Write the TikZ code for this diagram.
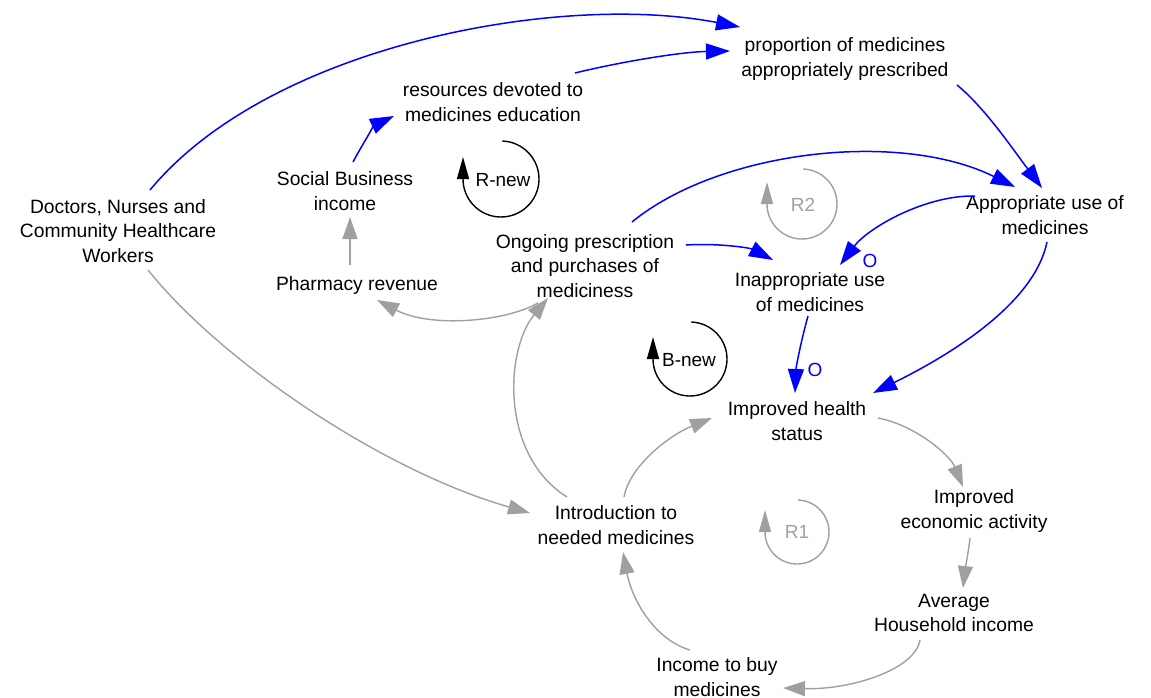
\documentclass[tikz,border=0pt]{standalone}
\usepackage{fontspec}
\setmainfont{Liberation Sans}
\usetikzlibrary{arrows.meta}
\definecolor{linkblue}{RGB}{0,0,255}
\definecolor{linkgray}{RGB}{160,160,160}
\begin{document}
\begin{tikzpicture}[x=1pt,y=-1pt,
  var/.style={align=center,inner sep=0pt,font=\fontsize{19.3}{24.5}\selectfont},
  bl/.style={draw=linkblue,line width=1.5pt,-{Triangle[length=24pt,width=16pt]}},
  gl/.style={draw=linkgray,line width=1.4pt,-{Triangle[length=22pt,width=15pt]}},
  polarity/.style={text=linkblue,inner sep=0pt,font=\fontsize{19}{22}\selectfont},
  loopk/.style={draw=black,line width=1.4pt,-{Triangle[length=22pt,width=12pt]}},
  loopg/.style={draw=linkgray,line width=1.4pt,-{Triangle[length=22pt,width=12pt]}},
  looplab/.style={inner sep=0pt,font=\fontsize{19}{22}\selectfont}
]
\fill[white] (0,0) rectangle (1151,698);
\useasboundingbox (0,0) rectangle (1151,698);

% variables
\node[var] (prop)  at (845,59)  {proportion of medicines\\appropriately prescribed};
\node[var] (res)   at (493,102) {resources devoted to\\medicines education};
\node[var] (sbi)   at (345,191) {Social Business\\income};
\node[var] (doc)   at (118,231) {Doctors, Nurses and\\Community Healthcare\\Workers};
\node[var] (phr)   at (357,286) {Pharmacy revenue};
\node[var] (ong)   at (585,266) {Ongoing prescription\\and purchases of\\mediciness};
\node[var] (app)   at (1045,215) {Appropriate use of\\medicines};
\node[var] (inap)  at (810,292) {Inappropriate use\\of medicines};
\node[var] (ihs)   at (797,421) {Improved health\\status};
\node[var] (iea)   at (974,511) {Improved\\economic activity};
\node[var] (ahi)   at (954,613) {Average\\Household income};
\node[var] (intro) at (616,525) {Introduction to\\needed medicines};
\node[var] (inc)   at (717,677) {Income to buy\\medicines};

% blue links
\draw[bl] ([shift={(32,-41)}]doc.center) .. controls (270,45) and (560,-8) .. ([shift={(-105,-32)}]prop.center);
\draw[bl] ([shift={(82,-29)}]res.center) .. controls (620,62) and (680,52) .. ([shift={(-115,-8)}]prop.center);
\draw[bl] ([shift={(8,-29)}]sbi.center) .. controls (362,145) and (375,125) .. ([shift={(-99,14)}]res.center);
\draw[bl] ([shift={(47,-44)}]ong.center) .. controls (720,150) and (900,130) .. ([shift={(-30,-28)}]app.center);
\draw[bl] ([shift={(101,-21)}]ong.center) .. controls (720,243) and (750,248) .. ([shift={(-37,-32)}]inap.center);
\draw[bl] ([shift={(-70,-19)}]app.center) .. controls (925,195) and (868,228) .. ([shift={(30,-27)}]inap.center);
\node[polarity] (o1) at (870,261) {O};
\draw[bl] ([shift={(112,26)}]prop.center) .. controls (985,108) and (1012,148) .. ([shift={(-3,-27)}]app.center);
\draw[bl] ([shift={(2,27)}]app.center) .. controls (1035,300) and (960,350) .. ([shift={(76,-28)}]ihs.center);
\draw[bl] ([shift={(-2,24)}]inap.center) .. controls (800,345) and (796,368) .. ([shift={(-2,-28)}]ihs.center);
\node[polarity] (o2) at (815,370) {O};

% grey links
\draw[gl] ([shift={(-7,-21)}]phr.center) -- ([shift={(5,26)}]sbi.center);
\draw[gl] ([shift={(-47,37)}]ong.center) .. controls (505,322) and (430,328) .. ([shift={(20,14)}]phr.center);
\draw[gl] ([shift={(-49,-28)}]intro.center) .. controls (500,455) and (505,350) .. ([shift={(-37,32)}]ong.center);
\draw[gl] ([shift={(30,39)}]doc.center) .. controls (220,360) and (380,470) .. ([shift={(-86,-12)}]intro.center);
\draw[gl] ([shift={(81,-3)}]ihs.center) .. controls (915,425) and (950,455) .. ([shift={(-11,-24)}]iea.center);
\draw[gl] ([shift={(-4,27)}]iea.center) .. controls (968,555) and (965,570) .. ([shift={(9,-25)}]ahi.center);
\draw[gl] ([shift={(-34,27)}]ahi.center) .. controls (915,670) and (850,690) .. ([shift={(66,11)}]inc.center);
\draw[gl] ([shift={(-27,-27)}]inc.center) .. controls (655,640) and (632,600) .. ([shift={(7,27)}]intro.center);
\draw[gl] ([shift={(8,-28)}]intro.center) .. controls (630,465) and (670,435) .. ([shift={(-85,-3)}]ihs.center);

% loop markers
\coordinate (rnew) at (501,179);
\coordinate (bnew) at (690,359);
\coordinate (rtwo) at (802,204);
\coordinate (rone) at (797,532);
\draw[loopk] (rnew) ++(88:38pt) arc[start angle=88,end angle=-180,radius=38pt] -- ++(0pt,22pt);
\draw[loopk] (bnew) ++(88:37pt) arc[start angle=88,end angle=-180,radius=37pt] -- ++(0pt,22pt);
\draw[loopg] (rtwo) ++(88:35pt) arc[start angle=88,end angle=-180,radius=35pt] -- ++(0pt,22pt);
\draw[loopg] (rone) ++(88:32pt) arc[start angle=88,end angle=-180,radius=32pt] -- ++(0pt,22pt);
\node[looplab] (rnewlab) at (503,180) {R-new};
\node[looplab] (bnewlab) at (689,360) {B-new};
\node[looplab,text=linkgray] (rtwolab) at (803,205) {R2};
\node[looplab,text=linkgray] (ronelab) at (797,532) {R1};
\end{tikzpicture}
\end{document}
